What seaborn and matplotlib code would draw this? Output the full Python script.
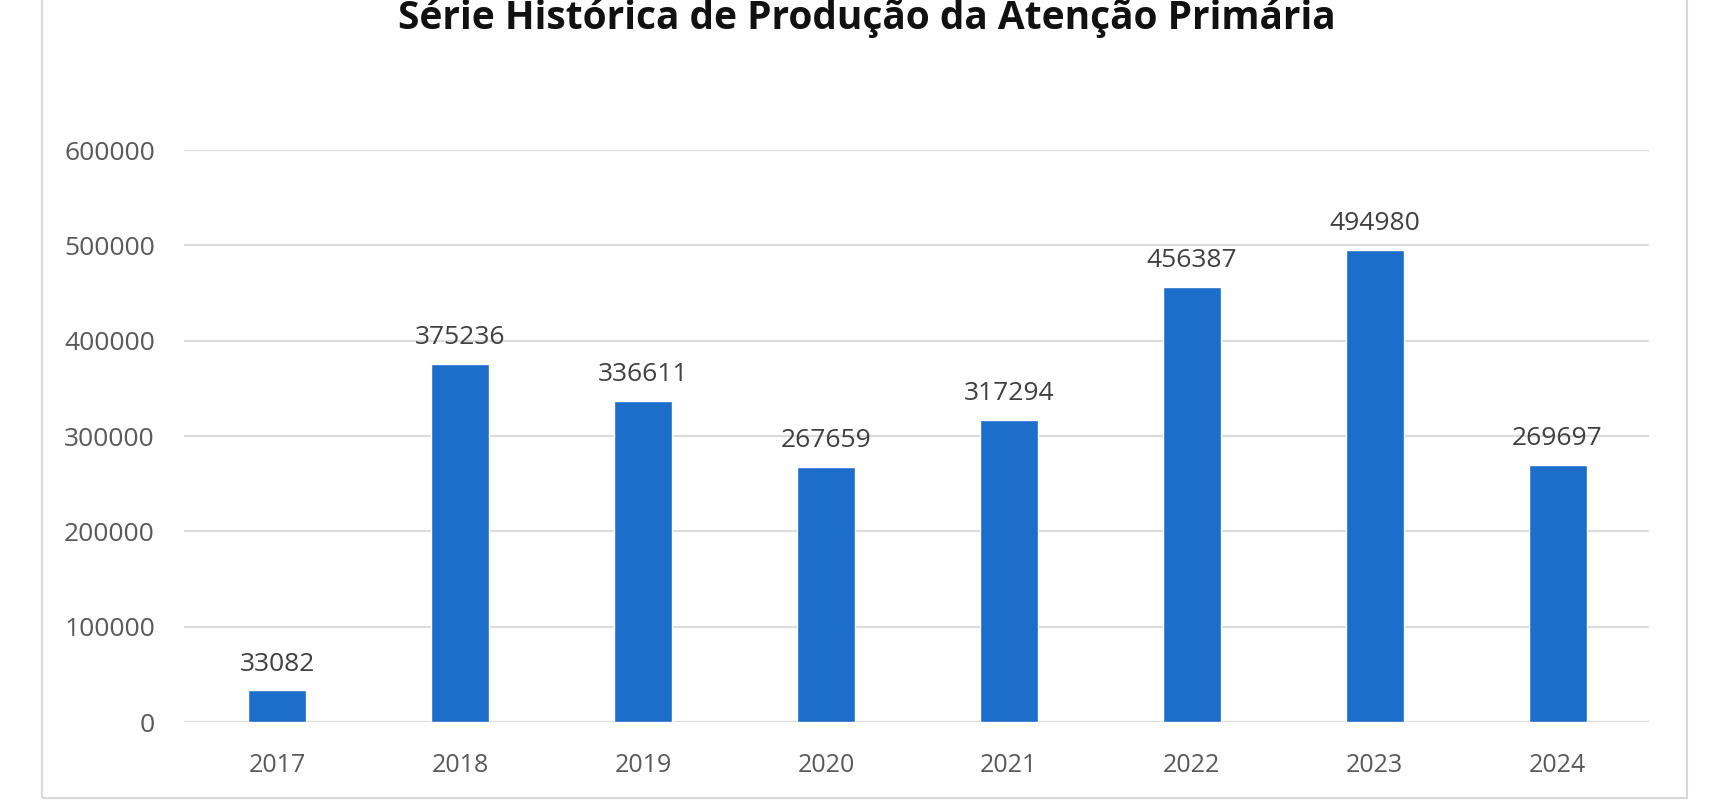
import matplotlib
matplotlib.use("Agg")
import matplotlib.pyplot as plt
import seaborn as sns
from matplotlib.patches import Rectangle

anos = ["2017", "2018", "2019", "2020", "2021", "2022", "2023", "2024"]
producao = [33082, 375236, 336611, 267659, 317294, 456387, 494980, 269697]
y_ticks = [0, 100000, 200000, 300000, 400000, 500000, 600000]
titulo = "Série Histórica de Produção da Atenção Primária"

sns.set_style("white")
plt.rcParams['font.family'] = ['Open Sans', 'DejaVu Sans']

fig = plt.figure(figsize=(17.28, 8), dpi=100)
ax = fig.add_axes([184/1728, 78/800, (1649-184)/1728, (722-150)/800])

sns.barplot(x=anos, y=producao, color="#1D6DCA", saturation=1, width=0.317, ax=ax)
ax.bar_label(ax.containers[0], labels=[str(v) for v in producao], padding=10,
             fontsize=19, color="#404040")

ax.set_ylim(0, 600000)
ax.set_xlim(-0.51, 7.5)
ax.set_yticks(y_ticks)
ax.set_yticklabels([str(t) for t in y_ticks])
ax.yaxis.grid(True, color="#DCDCDC", linewidth=1.6)
ax.set_axisbelow(True)
for s in ax.spines.values():
    s.set_visible(False)
ax.tick_params(axis="y", length=0, pad=21, labelsize=19, labelcolor="#595959")
ax.tick_params(axis="x", length=0, pad=22, labelsize=18, labelcolor="#595959")
ax.set_xlabel("")
ax.set_ylabel("")

# moldura do grafico (topo cortado)
fig.patches.append(Rectangle((42/1728, 2/800), (1687-42)/1728, 1.1,
                             transform=fig.transFigure, fill=False,
                             edgecolor="#D9D9D9", linewidth=1.5))

fig.text(867/1728, 1 - 29/800, titulo, ha="center", va="baseline",
         fontsize=28, fontweight="bold", color="#111111")

fig.savefig("out.png", dpi=100)
